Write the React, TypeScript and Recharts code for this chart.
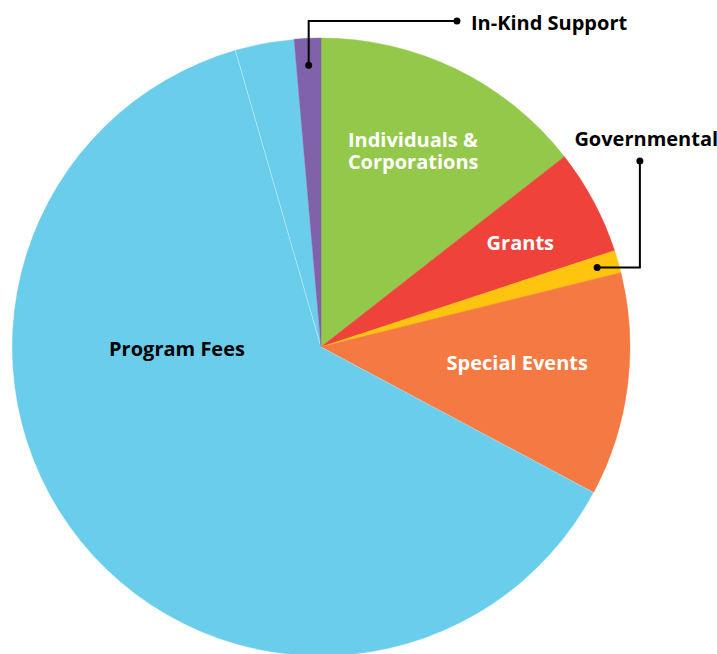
import { PieChart, Pie, Cell } from "recharts";

// clockwise from 12 o'clock
const CATEGORIES = [
  "Individuals & Corporations",
  "Grants",
  "Governmental",
  "Special Events",
  "Program Fees",
  "Other",
  "In-Kind Support",
];
const VALUES = [14.44, 5.51, 1.18, 11.67, 62.72, 3.08, 1.39];
const COLORS = ["#93C84A", "#EF423B", "#FEC40F", "#F47943", "#6ACDEB", "#6ACDEB", "#8062AA"];

const data = CATEGORIES.map((name, i) => ({ name, value: VALUES[i] }));

const RADIAN = Math.PI / 180;
const FONT = "'Open Sans', sans-serif";
const TEXT_STYLE = { fontFamily: FONT, fontWeight: 700, fontSize: 20 };

const renderLabel = (props: any) => {
  const { cx, cy, outerRadius, midAngle, index } = props;
  const R = outerRadius;
  const polar = (r: number) => ({
    x: cx + r * Math.cos(-midAngle * RADIAN),
    y: cy + r * Math.sin(-midAngle * RADIAN),
  });
  const txt = (x: number, y: number, s: string, fill: string, anchor = "middle") => (
    <text x={x} y={y} fill={fill} textAnchor={anchor} dominantBaseline="central" style={TEXT_STYLE}>
      {s}
    </text>
  );

  switch (index) {
    case 0: {
      const x = cx + R * 0.087;
      return (
        <text x={x} y={cy - R * 0.672} fill="#fff" textAnchor="start" dominantBaseline="central" style={TEXT_STYLE}>
          <tspan x={x}>Individuals &amp;</tspan>
          <tspan x={x} dy={R * 0.069}>Corporations</tspan>
        </text>
      );
    }
    case 1:
      return txt(cx + R * 0.645, cy - R * 0.337, "Grants", "#fff");
    case 2: {
      const p = polar(R * 0.93);
      const ex = cx + R * 1.032;
      const ey = cy - R * 0.602;
      return (
        <g>
          <polyline points={`${p.x},${p.y} ${ex},${p.y} ${ex},${ey}`} fill="none" stroke="#000" strokeWidth={2} />
          <circle cx={p.x} cy={p.y} r={3.5} fill="#000" />
          <circle cx={ex} cy={ey} r={3.5} fill="#000" />
          {txt(cx + R * 0.82, cy - R * 0.676, "Governmental", "#000", "start")}
        </g>
      );
    }
    case 3:
      return txt(cx + R * 0.635, cy + R * 0.049, "Special Events", "#fff");
    case 4:
      return txt(cx - R * 0.466, cy + R * 0.006, "Program Fees", "#000");
    case 6: {
      const p = polar(R * 0.913);
      const ty = cy - R * 1.055;
      const ex = cx + R * 0.44;
      return (
        <g>
          <polyline points={`${p.x},${p.y} ${p.x},${ty} ${ex},${ty}`} fill="none" stroke="#000" strokeWidth={2} />
          <circle cx={p.x} cy={p.y} r={3.5} fill="#000" />
          <circle cx={ex} cy={ty} r={3.5} fill="#000" />
          {txt(ex + 14, ty + 1, "In-Kind Support", "#000", "start")}
        </g>
      );
    }
    default:
      return null;
  }
};

export default function App() {
  return (
    <div style={{ position: "absolute", left: 0, top: 0 }}>
      <PieChart width={717} height={654} margin={{ top: 0, right: 0, bottom: 0, left: 0 }}>
        <Pie
          data={data}
          dataKey="value"
          nameKey="name"
          cx={321}
          cy={347}
          outerRadius={309}
          startAngle={90}
          endAngle={-270}
          label={renderLabel}
          labelLine={false}
          isAnimationActive={false}
        >
          {data.map((d, i) => (
            <Cell
              key={d.name}
              fill={COLORS[i]}
              stroke={i === 4 || i === 5 ? "rgba(255,255,255,0.35)" : COLORS[i]}
              strokeWidth={i === 4 || i === 5 ? 0.8 : 0.5}
            />
          ))}
        </Pie>
      </PieChart>
    </div>
  );
}
